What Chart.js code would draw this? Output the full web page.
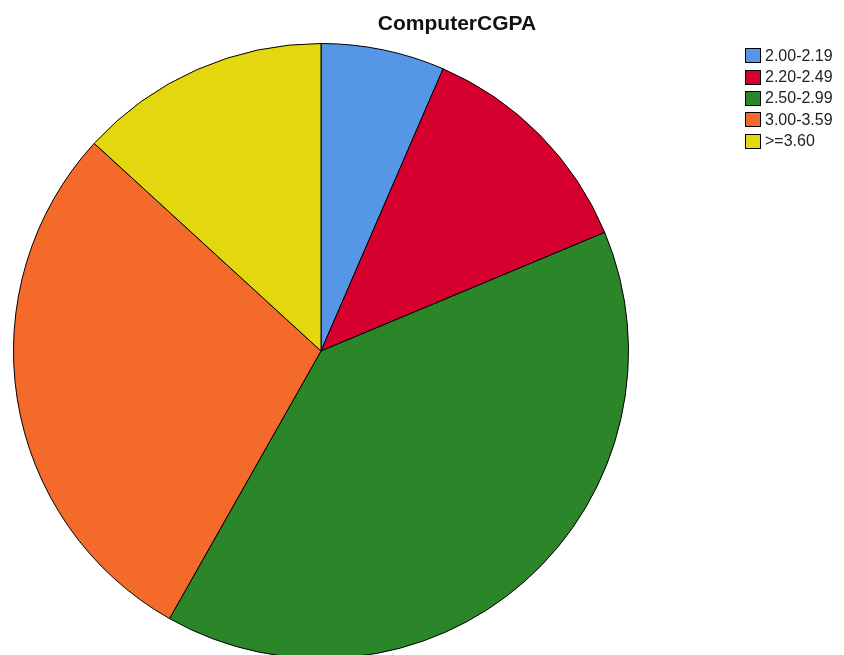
<!DOCTYPE html>
<html>
<head>
<meta charset="utf-8">
<script src="https://cdn.jsdelivr.net/npm/chart.js@4/dist/chart.umd.min.js"></script>
<style>
    body { margin: 0; overflow: hidden; background: #fff; font-family: "Liberation Sans", Arial, sans-serif; }
    #wrap { position: absolute; left: 0; top: 0; width: 844px; height: 670px; }
    #title { position: absolute; left: 0; width: 914px; top: 11px; text-align: center; font-weight: bold; font-size: 21px; color: #111; }
    #legend { position: absolute; left: 745px; top: 45px; font-size: 16px; color: #222; }
    .item { height: 21.4px; display: flex; align-items: center; }
    .box { width: 14px; height: 13px; border: 1px solid #000; margin-right: 4px; }
</style>
</head>
<body>
<div id="wrap">
    <canvas id="pieChart" width="844" height="670"></canvas>
    <div id="title">ComputerCGPA</div>
    <div id="legend"></div>
</div>
<script>
const categories = ['2.00-2.19', '2.20-2.49', '2.50-2.99', '3.00-3.59', '>=3.60'];
const percents = [6.5, 12.2, 39.5, 28.6, 13.2];
const colors = ['#5596E6', '#D6002F', '#2A8629', '#F36A2B', '#E3D80F'];

document.addEventListener('DOMContentLoaded', () => {
    // Pie Chart
    const pieChart = new Chart(document.getElementById('pieChart'), {
        type: 'pie',
        data: {
            labels: categories,
            datasets: [{
                data: percents,
                backgroundColor: colors,
                borderColor: '#000',
                borderWidth: 1
            }]
        },
        options: {
            responsive: false,
            animation: false,
            events: [],
            layout: {
                padding: { left: 13, right: 215, top: 43, bottom: 11 }
            },
            plugins: {
                legend: { display: false },
                title: { display: false },
                tooltip: { enabled: false }
            }
        }
    });

    // legend built from the same arrays
    const legend = document.getElementById('legend');
    categories.forEach((c, i) => {
        const row = document.createElement('div');
        row.className = 'item';
        row.innerHTML = '<div class="box" style="background:' + colors[i] + '"></div><span></span>';
        row.querySelector('span').textContent = c;
        legend.appendChild(row);
    });
});
</script>
</body>
</html>
